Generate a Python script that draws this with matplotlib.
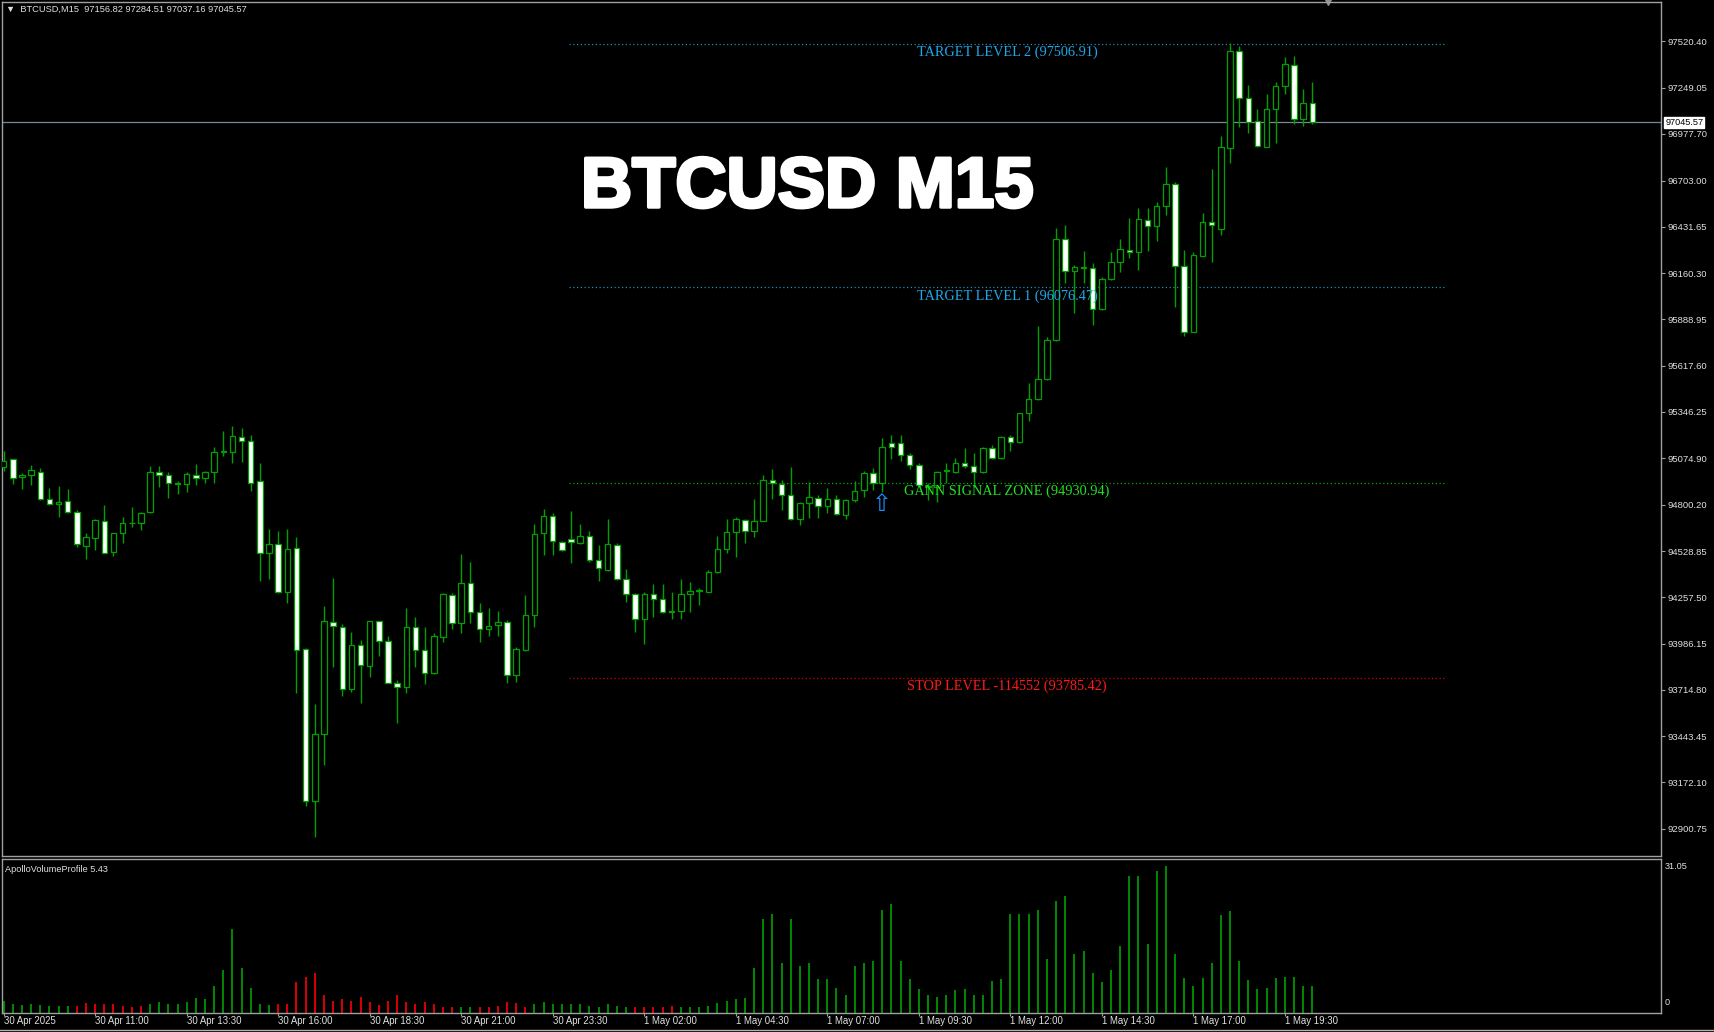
import matplotlib
matplotlib.use("Agg")
import matplotlib.pyplot as plt
import matplotlib.transforms as mtransforms
import matplotlib.patheffects as pe
from matplotlib.lines import Line2D
import numpy as np

plt.rcParams['font.family'] = ['Liberation Sans', 'DejaVu Sans']

# ---- data (BTCUSD M15, 30 Apr 08:30 -> 1 May 20:15) ----
opens = [95021, 95068, 94962, 94974, 94996, 94833, 94806, 94822, 94759, 94561,
         94604, 94706, 94522, 94634, 94692, 94692, 94757, 94994, 94976, 94931,
         94921, 94976, 94957, 94996, 95113, 95109, 95201, 95176, 94941, 94520,
         94571, 94291, 94546, 93953, 93065, 93454, 94115, 94086, 93718, 93978,
         93857, 94117, 94004, 93757, 93730, 94082, 93949, 93812, 94027, 94274,
         94106, 94344, 94174, 94070, 94094, 94111, 93800, 93949, 94153, 94634,
         94736, 94585, 94599, 94575, 94618, 94477, 94419, 94563, 94364, 94278,
         94133, 94278, 94246, 94170, 94180, 94276, 94295, 94291, 94405, 94540,
         94640, 94712, 94649, 94708, 94947, 94923, 94861, 94720, 94810, 94841,
         94794, 94833, 94743, 94829, 94888, 94990, 94931, 95162, 95162, 95095,
         95033, 94912, 94908, 94998, 94992, 95045, 95029, 94992, 95133, 95074,
         95197, 95168, 95338, 95420, 95538, 95769, 96359, 96172, 96191, 96189,
         95948, 96127, 96228, 96297, 96285, 96473, 96440, 96555, 96682, 96205,
         95817, 96263, 96463, 96418, 96893, 97465, 97187, 97054, 96903, 97126,
         97259, 97381, 97066, 97156.82]
highs = [95119, 95072, 94990, 95033, 95015, 94898, 94912, 94892, 94771, 94634,
         94720, 94798, 94638, 94732, 94790, 94761, 95031, 95029, 94996, 94941,
         94996, 95041, 95001, 95142, 95236, 95264, 95250, 95211, 95045, 94657,
         94649, 94659, 94610, 93959, 93632, 94207, 94370, 94102, 94055, 94008,
         94117, 94121, 94031, 93773, 94194, 94141, 94086, 94047, 94286, 94282,
         94512, 94464, 94223, 94197, 94180, 94125, 93969, 94274, 94689, 94775,
         94755, 94591, 94767, 94687, 94649, 94563, 94718, 94579, 94422, 94286,
         94291, 94336, 94336, 94291, 94366, 94350, 94311, 94419, 94618, 94716,
         94728, 94716, 94835, 94976, 95009, 94947, 95025, 94820, 94937, 94859,
         94902, 94859, 94835, 94943, 95001, 95015, 95191, 95211, 95211, 95103,
         95049, 94927, 95001, 95045, 95074, 95136, 95103, 95139, 95152, 95205,
         95211, 95338, 95514, 95851, 95788, 96424, 96443, 96209, 96293, 96218,
         96136, 96287, 96360, 96483, 96541, 96541, 96580, 96782, 96698, 96297,
         96287, 96512, 96772, 96966, 97514, 97494, 97265, 97122, 97212, 97281,
         97428, 97435, 97240, 97284.51]
lows = [95002, 94923, 94892, 94917, 94829, 94802, 94732, 94755, 94556, 94485,
        94536, 94516, 94503, 94575, 94673, 94653, 94753, 94908, 94839, 94865,
        94878, 94917, 94931, 94931, 95089, 95049, 95054, 94884, 94354, 94364,
        94282, 94227, 93699, 93035, 92850, 93274, 93851, 93679, 93704, 93636,
        93793, 93914, 93753, 93519, 93699, 93851, 93749, 93808, 93998, 94070,
        94047, 94110, 93994, 94031, 94031, 93757, 93763, 93945, 94086, 94507,
        94507, 94532, 94458, 94571, 94467, 94356, 94415, 94360, 94231, 94053,
        93982, 94145, 94168, 94131, 94133, 94172, 94213, 94289, 94403, 94516,
        94493, 94575, 94614, 94708, 94837, 94771, 94712, 94683, 94722, 94722,
        94755, 94743, 94716, 94820, 94849, 94888, 94878, 95068, 95060, 95009,
        94908, 94829, 94820, 94927, 94986, 95015, 94908, 94986, 95070, 95070,
        95119, 95162, 95295, 95416, 95534, 95765, 96101, 95925, 96101, 95857,
        95945, 96121, 96170, 96248, 96179, 96293, 96351, 96502, 95964, 95792,
        95817, 96263, 96228, 96385, 96809, 97021, 96985, 96903, 96903, 96927,
        97212, 97036, 97026, 97037.16]
closes = [95060, 94957, 94974, 95003, 94833, 94806, 94818, 94759, 94569, 94614,
          94712, 94520, 94634, 94696, 94696, 94755, 94996, 94974, 94931, 94921,
          94980, 94957, 94994, 95113, 95115, 95205, 95178, 94927, 94516, 94571,
          94291, 94542, 93949, 93065, 93454, 94117, 94090, 93718, 93978, 93861,
          94117, 94002, 93757, 93734, 94082, 93949, 93816, 94031, 94278, 94106,
          94344, 94174, 94070, 94092, 94111, 93800, 93953, 94153, 94628, 94736,
          94587, 94536, 94581, 94620, 94477, 94428, 94569, 94364, 94278, 94133,
          94278, 94248, 94170, 94180, 94276, 94297, 94297, 94409, 94540, 94640,
          94716, 94649, 94708, 94947, 94927, 94857, 94720, 94810, 94845, 94794,
          94835, 94747, 94829, 94882, 94990, 94931, 95142, 95142, 95095, 95035,
          94917, 94908, 94996, 95005, 95045, 95029, 94992, 95133, 95078, 95201,
          95168, 95338, 95420, 95538, 95769, 96361, 96172, 96195, 96195, 95948,
          96127, 96228, 96301, 96285, 96479, 96440, 96557, 96682, 96205, 95817,
          96267, 96459, 96443, 96899, 97465, 97187, 97050, 96907, 97126, 97261,
          97386, 97066, 97158, 97045.57]

volumes = [2.6, 1.8, 1.7, 2.0, 1.7, 1.5, 1.5, 1.5, 1.5, 2.2,
           1.9, 1.8, 1.8, 1.55, 1.35, 1.55, 2.0, 2.25, 1.9, 1.8,
           2.25, 3.2, 2.9, 5.7, 9.1, 17.7, 9.6, 5.3, 1.9, 1.7,
           1.8, 1.9, 6.5, 7.6, 8.5, 3.8, 2.6, 3.0, 2.5, 3.4,
           2.25, 1.75, 2.5, 3.7, 2.25, 2.0, 2.3, 2.0, 1.35, 1.35,
           1.35, 1.35, 1.35, 1.35, 1.5, 2.3, 2.1, 1.35, 2.0, 2.25,
           1.8, 1.8, 1.9, 1.8, 1.55, 1.35, 1.8, 1.5, 1.35, 1.35,
           1.35, 1.2, 1.2, 1.55, 1.35, 1.35, 1.35, 1.5, 2.2, 2.6,
           3.0, 3.2, 9.6, 19.9, 21.0, 10.5, 19.9, 10.0, 10.5, 7.2,
           7.2, 5.35, 3.9, 10.0, 10.5, 11.05, 21.75, 22.95, 11.0, 7.1,
           5.07, 3.73, 3.45, 3.73, 4.79, 5.07, 3.73, 3.73, 6.76, 7.1,
           20.9, 20.9, 20.9, 21.75, 11.5, 23.7, 24.8, 12.5, 13.0, 8.45,
           6.55, 9.1, 14.1, 28.9, 28.9, 14.6, 29.9, 31.05, 12.5, 7.4,
           5.6, 7.4, 10.5, 20.6, 21.5, 11.0, 7.0, 5.07, 5.35, 7.4,
           7.7, 7.7, 5.6, 5.8]
vol_side = ("GGGGGGGG" "RRRRRRRR" "GGGGGGGGGGGGGG" "RRRRRRRRRRRRRRRRRRRR" "GG"
            "RRRRRR" "GGGGGGGGGGG" "RRRRR" + "G" * 70)

price_ticks = [97520.40, 97249.05, 96977.70, 96703.00, 96431.65, 96160.30,
               95888.95, 95617.60, 95346.25, 95074.90, 94800.20, 94528.85,
               94257.50, 93986.15, 93714.80, 93443.45, 93172.10, 92900.75]
time_tick_bars = [0, 10, 20, 30, 40, 50, 60, 70, 80, 90, 100, 110, 120, 130, 140]
time_tick_labels = ["30 Apr 2025", "30 Apr 11:00", "30 Apr 13:30", "30 Apr 16:00",
                    "30 Apr 18:30", "30 Apr 21:00", "30 Apr 23:30", "1 May 02:00",
                    "1 May 04:30", "1 May 07:00", "1 May 09:30", "1 May 12:00",
                    "1 May 14:30", "1 May 17:00", "1 May 19:30"]

level_names = ["TARGET LEVEL 2 (97506.91)", "TARGET LEVEL 1 (96076.47)",
               "GANN SIGNAL ZONE (94930.94)", "STOP LEVEL -114552 (93785.42)"]
level_prices = [97506.91, 96076.47, 94930.94, 93785.42]
level_line_colors = ['#1d8fbf', '#1d8fbf', '#00b000', '#d00000']
level_text_colors = ['#1ea7e8', '#1ea7e8', '#22e022', '#ff1a1a']
level_start, level_end = 61.8, 157.5

signal_bar = 96
last_price = 97045.57
vol_max = 31.05

GREEN = '#00a000'
AXC = '#a0a0a0'
TXT = '#e0e0e0'

W, H = 1714, 1032
fig = plt.figure(figsize=(W / 100, H / 100), dpi=100, facecolor='black')


def box(x0, y0, x1, y1):
    return [x0 / W, 1 - y1 / H, (x1 - x0) / W, (y1 - y0) / H]


ax = fig.add_axes(box(2, 2, 1661, 856), facecolor='black')
axv = fig.add_axes(box(2, 859, 1661, 1013), facecolor='black', sharex=ax)

n = len(opens)
x = np.arange(n)
o = np.array(opens); c = np.array(closes)
hi = np.array(highs); lo = np.array(lows)
bull = c >= o

# candles
ax.vlines(x, lo, hi, color=GREEN, lw=1.0, zorder=3)
body_lo = np.minimum(o, c)
body_h = np.maximum(np.abs(c - o), 5)
ax.bar(x, body_h, bottom=body_lo, width=0.6,
       color=['black' if b else 'white' for b in bull],
       edgecolor=GREEN, linewidth=0.9, zorder=4)

# current price line + label
ax.axhline(last_price, color='#778899', lw=0.9, zorder=1)
trans = mtransforms.blended_transform_factory(ax.transAxes, ax.transData)
ax.text(1.0025, last_price, f"{last_price:.2f}", transform=trans, ha='left', va='center',
        fontsize=6.6, color='black', clip_on=False,
        bbox=dict(facecolor='white', edgecolor='white', pad=0.6))

# signal levels
mid = (level_start + level_end) / 2
for name, p, lc, tc in zip(level_names, level_prices, level_line_colors, level_text_colors):
    ax.hlines(p, level_start, level_end, colors=lc, linestyles=(0, (1, 2)), lw=0.9, zorder=2)
    ax.annotate(name, xy=(mid, p), xytext=(0, -1.5), textcoords='offset points',
                ha='center', va='top', fontsize=10.3, family='Liberation Serif',
                color=tc, zorder=5)

# signal arrow
ax.annotate('\u21e7', xy=(signal_bar, lows[signal_bar]), xytext=(0, -8.5),
            textcoords='offset points', ha='center', va='center', fontsize=17,
            color='#1e90ff', family='DejaVu Sans', zorder=5)

# chart shift marker
ax.plot([n + 0.7], [1.0], marker='v', markersize=5, color='#909090',
        transform=mtransforms.blended_transform_factory(ax.transData, ax.transAxes),
        clip_on=False)

ax.set_xlim(-0.18, 181.1)
ax.set_ylim(92740, 97752)
ax.yaxis.tick_right()
ax.set_yticks(price_ticks)
ax.set_yticklabels([f"{t:.2f}" for t in price_ticks])
ax.tick_params(axis='y', colors=AXC, labelcolor=TXT, labelsize=6.8, length=3, width=0.8, pad=2)
ax.tick_params(axis='x', bottom=False, labelbottom=False)
for s in ax.spines.values():
    s.set_color(AXC)
    s.set_linewidth(1)

# volume panel
vcol = [GREEN if s == 'G' else '#ff0000' for s in vol_side]
axv.vlines(x, 0, volumes, colors=vcol, lw=1.2)
axv.set_ylim(0, 32.53)
axv.set_yticks([])
axv.text(1.002, vol_max, f"{vol_max:.2f}", transform=mtransforms.blended_transform_factory(axv.transAxes, axv.transData),
         ha='left', va='center', fontsize=6.6, color=TXT, clip_on=False)
axv.text(1.002, 0.04, "0", transform=axv.transAxes, ha='left', va='bottom',
         fontsize=6.6, color=TXT, clip_on=False)
axv.text(0.002, 0.96, "ApolloVolumeProfile 5.43", transform=axv.transAxes, ha='left', va='top',
         fontsize=6.6, color=TXT)
axv.set_xticks(time_tick_bars)
axv.set_xticklabels(time_tick_labels)
plt.setp(axv.get_xticklabels(), ha='left')
axv.tick_params(axis='x', colors=AXC, labelcolor=TXT, labelsize=6.9, length=2, width=0.8, pad=0.3)
for s in axv.spines.values():
    s.set_color(AXC)
    s.set_linewidth(1)

# header and title
fig.text(6 / W, 1 - 9 / H, "\u25bc  BTCUSD,M15  97156.82 97284.51 97037.16 97045.57",
         ha='left', va='center', fontsize=6.7, color=TXT)
fig.text(581 / W, 1 - 207 / H, "BTCUSD M15", ha='left', va='baseline',
         fontsize=51, fontweight='bold', color='white',
         path_effects=[pe.withStroke(linewidth=2.5, foreground='white')])

fig.add_artist(Line2D([0, 1], [1 - 1029.5 / H] * 2, color='#b0b0b0', lw=1))

fig.savefig('out.png', dpi=100, facecolor='black')
